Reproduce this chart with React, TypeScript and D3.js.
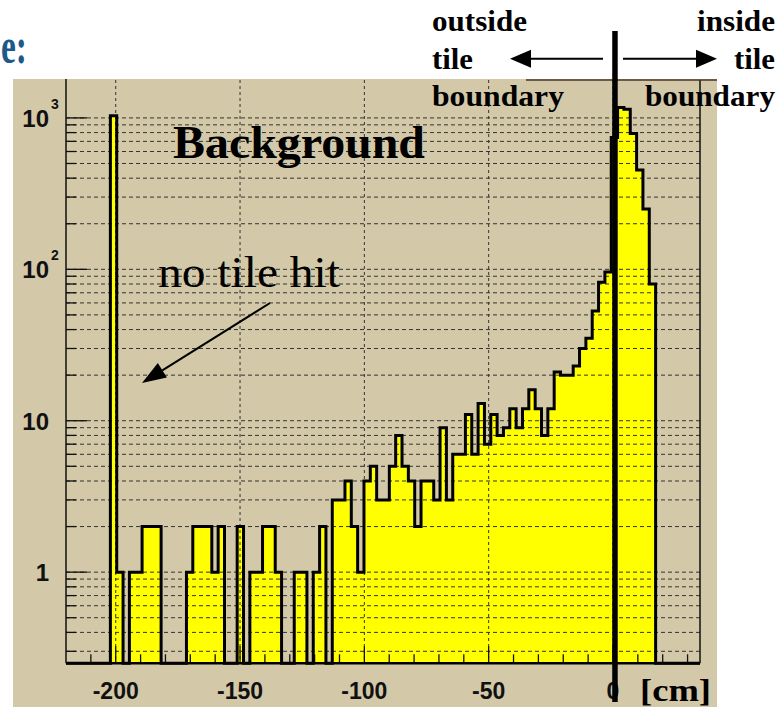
import React, { useEffect, useRef } from "react";
import * as d3 from "d3";

// histogram binning (cm) and counts
const X_DOMAIN = [-220, 35];
const N_BINS = 100;
const COUNTS = [
  0, 0, 0, 0, 0, 0, 0, 1035, 1, 0,
  1, 1, 2, 2, 2, 0, 0, 0, 0, 1,
  2, 2, 2, 1, 2, 0, 0, 2, 0, 1,
  1, 2, 2, 1, 0, 0, 1, 1, 0, 1,
  2, 0, 3, 3, 4, 2, 1, 4, 5, 3,
  3, 5, 8, 5, 4, 2, 4, 4, 3, 9,
  3, 6, 6, 11, 6, 13, 7, 11, 8, 9,
  12, 9, 12, 16, 12, 8, 12, 21, 20, 20,
  23, 30, 35, 53, 82, 96, 743, 1170, 1140, 790,
  453, 250, 80, 0, 0, 0, 0, 0, 0, 0,
];

const X_MAJOR = [-200, -150, -100, -50, 0];
const X_MAJOR_LABELS = ["-200", "-150", "-100", "-50", "0"];
const Y_DOMAIN = [0.25, 1780];
const Y_DECADES = [1, 10, 100, 1000];
const Y_DECADE_BASE = ["1", "10", "10", "10"];
const Y_DECADE_EXP = ["", "", "2", "3"];
const BOUNDARY_CM = 0.8;

const TAN = "#d3c8a8";
const SERIF = "'Liberation Serif', 'Times New Roman', serif";
const SANS = "'Liberation Sans', Arial, sans-serif";

function App() {
  const svgRef = useRef<SVGSVGElement | null>(null);

  useEffect(() => {
    const width = 776;
    const height = 707;
    const plot = { left: 66, right: 700, top: 80, bottom: 663.3 };

    const root = d3.select(svgRef.current);
    root.selectAll("*").remove();
    root.attr("width", width).attr("height", height);

    const x = d3.scaleLinear().domain(X_DOMAIN).range([plot.left, plot.right]);
    const y = d3.scaleLog().domain(Y_DOMAIN).range([plot.bottom, plot.top]);
    const yv = (v: number) => (v > 0 ? y(v) : plot.bottom);

    // page + pad background
    root.append("rect").attr("width", width).attr("height", height).attr("fill", "#fff");
    root
      .append("rect")
      .attr("x", 13)
      .attr("y", 79)
      .attr("width", 717 - 13)
      .attr("height", height - 79)
      .attr("fill", TAN);

    // histogram points (step after)
    const binW = (X_DOMAIN[1] - X_DOMAIN[0]) / N_BINS;
    const pts: [number, number][] = COUNTS.map((c, i) => [X_DOMAIN[0] + i * binW, c]);
    pts.push([X_DOMAIN[0] + N_BINS * binW, 0]);

    const area = d3
      .area<[number, number]>()
      .x((d) => x(d[0]))
      .y0(plot.bottom)
      .y1((d) => yv(d[1]))
      .curve(d3.curveStepAfter);

    root.append("path").datum(pts).attr("d", area).attr("fill", "#ffff00");

    // grid
    const g = root.append("g");
    const minor: number[] = [];
    [0.1, 1, 10, 100, 1000].forEach((dec) => {
      for (let m = 1; m <= 9; m++) {
        const v = m * dec;
        if (v >= Y_DOMAIN[0] && v <= Y_DOMAIN[1]) minor.push(v);
      }
    });
    g.selectAll("line.hgrid")
      .data(minor)
      .join("line")
      .attr("x1", plot.left)
      .attr("x2", plot.right)
      .attr("y1", (d) => y(d))
      .attr("y2", (d) => y(d))
      .attr("stroke", "#333")
      .attr("stroke-width", 1)
      .attr("stroke-dasharray", "4 3");
    g.selectAll("line.vgrid")
      .data(X_MAJOR)
      .join("line")
      .attr("x1", (d) => x(d))
      .attr("x2", (d) => x(d))
      .attr("y1", plot.top)
      .attr("y2", plot.bottom)
      .attr("stroke", "#333")
      .attr("stroke-width", 1)
      .attr("stroke-dasharray", "3 3");

    // y ticks
    g.selectAll("line.ytick")
      .data(minor)
      .join("line")
      .attr("x1", plot.left)
      .attr("x2", (d) => plot.left + (Y_DECADES.includes(d) ? 21 : 10))
      .attr("y1", (d) => y(d))
      .attr("y2", (d) => y(d))
      .attr("stroke", "#111")
      .attr("stroke-width", 1.3);

    // x ticks every 10 cm
    const xt = d3.range(-210, 31, 10);
    g.selectAll("line.xtick")
      .data(xt)
      .join("line")
      .attr("x1", (d) => x(d))
      .attr("x2", (d) => x(d))
      .attr("y1", plot.bottom)
      .attr("y2", (d) => plot.bottom - (d % 50 === 0 ? 17 : 9))
      .attr("stroke", "#111")
      .attr("stroke-width", 1.3);

    // histogram outline
    const line = d3
      .line<[number, number]>()
      .x((d) => x(d[0]))
      .y((d) => yv(d[1]))
      .curve(d3.curveStepAfter);
    root
      .append("path")
      .datum([[X_DOMAIN[0], 0] as [number, number], ...pts])
      .attr("d", line)
      .attr("fill", "none")
      .attr("stroke", "#000")
      .attr("stroke-width", 3)
      .attr("stroke-linejoin", "miter");

    // frame
    root
      .append("line")
      .attr("x1", plot.left).attr("x2", plot.left)
      .attr("y1", 79).attr("y2", plot.bottom)
      .attr("stroke", "#111").attr("stroke-width", 1.5);
    root
      .append("line")
      .attr("x1", plot.right).attr("x2", plot.right)
      .attr("y1", plot.top).attr("y2", plot.bottom)
      .attr("stroke", "#111").attr("stroke-width", 1.5);
    root
      .append("line")
      .attr("x1", plot.left).attr("x2", plot.right)
      .attr("y1", plot.bottom).attr("y2", plot.bottom)
      .attr("stroke", "#000").attr("stroke-width", 2.5);
    root
      .append("line")
      .attr("x1", 526).attr("x2", 717)
      .attr("y1", 80).attr("y2", 80)
      .attr("stroke", "#4a3428").attr("stroke-width", 1.5);

    // y labels
    const yl = root.append("g").attr("font-family", SANS).attr("fill", "#111").attr("font-weight", "bold");
    Y_DECADES.forEach((v, i) => {
      yl.append("text")
        .attr("x", 49)
        .attr("y", y(v) + 9)
        .attr("text-anchor", "end")
        .attr("font-size", 24)
        .text(Y_DECADE_BASE[i]);
      if (Y_DECADE_EXP[i]) {
        yl.append("text")
          .attr("x", 51)
          .attr("y", y(v) - 9)
          .attr("font-size", 14)
          .text(Y_DECADE_EXP[i]);
      }
    });

    // x labels
    root
      .append("g")
      .attr("font-family", SANS)
      .attr("font-size", 23)
      .attr("font-weight", "bold")
      .attr("fill", "#111")
      .selectAll("text")
      .data(X_MAJOR)
      .join("text")
      .attr("x", (d) => x(d))
      .attr("y", 699)
      .attr("text-anchor", "middle")
      .text((d, i) => X_MAJOR_LABELS[i]);

    root
      .append("text")
      .attr("x", 640)
      .attr("y", 701)
      .attr("font-family", SERIF)
      .attr("font-weight", "bold")
      .attr("font-size", 32)
      .attr("textLength", 71)
      .attr("lengthAdjust", "spacingAndGlyphs")
      .text("[cm]");

    // boundary marker
    root
      .append("line")
      .attr("x1", x(BOUNDARY_CM)).attr("x2", x(BOUNDARY_CM))
      .attr("y1", 31).attr("y2", 702)
      .attr("stroke", "#000").attr("stroke-width", 5.5);

    // arrows
    const arrow = (x1: number, y1: number, x2: number, y2: number, len: number, w: number, sw: number) => {
      const a = Math.atan2(y2 - y1, x2 - x1);
      const bx = x2 - len * Math.cos(a);
      const by = y2 - len * Math.sin(a);
      const px = (w / 2) * Math.sin(a);
      const py = (w / 2) * -Math.cos(a);
      root
        .append("line")
        .attr("x1", x1).attr("y1", y1).attr("x2", bx).attr("y2", by)
        .attr("stroke", "#000").attr("stroke-width", sw);
      root
        .append("polygon")
        .attr("points", `${x2},${y2} ${bx + px},${by + py} ${bx - px},${by - py}`)
        .attr("fill", "#000");
    };
    arrow(603, 58.7, 510, 58.7, 21, 18, 2);
    arrow(623, 58.7, 717, 58.7, 21, 18, 2);
    arrow(270, 303, 142, 383, 24, 17, 2);

    // annotations
    const label = (
      t: string, xx: number, yy: number, size: number, weight: string,
      anchor: string, len?: number, fill = "#000"
    ) => {
      const el = root
        .append("text")
        .attr("x", xx)
        .attr("y", yy)
        .attr("font-family", SERIF)
        .attr("font-weight", weight)
        .attr("font-size", size)
        .attr("text-anchor", anchor)
        .attr("fill", fill)
        .text(t);
      if (len) el.attr("textLength", len).attr("lengthAdjust", "spacingAndGlyphs");
    };
    label("outside", 432, 31, 29, "bold", "start", 95);
    label("tile", 432, 68.5, 29, "bold", "start", 41);
    label("boundary", 432, 106, 29, "bold", "start", 132);
    label("inside", 775, 31, 29, "bold", "end", 78);
    label("tile", 775, 68.5, 29, "bold", "end", 41);
    label("boundary", 775, 106, 29, "bold", "end", 130);
    label("Background", 173, 158, 46, "bold", "start", 252);
    label("no tile hit", 158, 286.5, 44, "normal", "start", 182);
    label("e:", 1, 63, 50, "bold", "start", 26, "#1b5a8a");
  }, []);

  return <svg ref={svgRef} style={{ position: "absolute", left: 0, top: 0 }} />;
}

export default App;
